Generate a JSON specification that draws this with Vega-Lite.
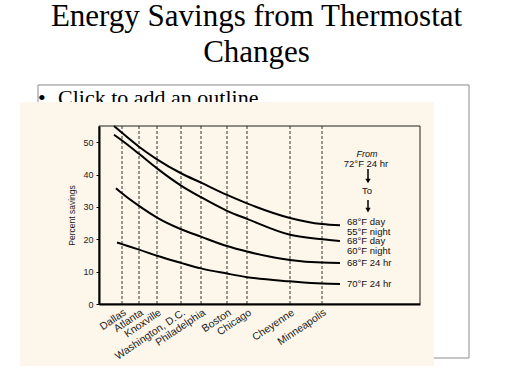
{
  "$schema": "https://vega.github.io/schema/vega-lite/v6.json",
  "width": 321,
  "height": 178,
  "autosize": {"type": "none"},
  "padding": {"left": 99, "top": 126, "right": 92, "bottom": 80},
  "background": "white",
  "title": {
    "text": ["Energy Savings from Thermostat", "Changes"],
    "font": "Liberation Serif",
    "fontSize": 31,
    "fontWeight": "normal",
    "color": "#000000",
    "lineHeight": 36,
    "frame": "group",
    "anchor": "middle",
    "baseline": "bottom",
    "offset": 27,
    "dy": 43,
    "dx": -3
  },
  "datasets": {
    "curves": [
      {"series": "68°F day|55°F night", "dd": 2050, "pct": 55.0},
      {"series": "68°F day|55°F night", "dd": 2290, "pct": 52.9},
      {"series": "68°F day|55°F night", "dd": 2800, "pct": 48.6},
      {"series": "68°F day|55°F night", "dd": 3340, "pct": 44.7},
      {"series": "68°F day|55°F night", "dd": 4060, "pct": 40.4},
      {"series": "68°F day|55°F night", "dd": 4660, "pct": 37.5},
      {"series": "68°F day|55°F night", "dd": 5440, "pct": 33.7},
      {"series": "68°F day|55°F night", "dd": 6040, "pct": 31.1},
      {"series": "68°F day|55°F night", "dd": 7330, "pct": 26.6},
      {"series": "68°F day|55°F night", "dd": 8290, "pct": 24.7},
      {"series": "68°F day|55°F night", "dd": 8830, "pct": 24.3},
      {"series": "68°F day|60°F night", "dd": 2050, "pct": 52.3},
      {"series": "68°F day|60°F night", "dd": 2290, "pct": 50.5},
      {"series": "68°F day|60°F night", "dd": 2800, "pct": 46.4},
      {"series": "68°F day|60°F night", "dd": 3340, "pct": 41.9},
      {"series": "68°F day|60°F night", "dd": 4060, "pct": 36.6},
      {"series": "68°F day|60°F night", "dd": 4660, "pct": 33.0},
      {"series": "68°F day|60°F night", "dd": 5440, "pct": 28.8},
      {"series": "68°F day|60°F night", "dd": 6040, "pct": 26.3},
      {"series": "68°F day|60°F night", "dd": 7330, "pct": 21.4},
      {"series": "68°F day|60°F night", "dd": 8290, "pct": 20.0},
      {"series": "68°F day|60°F night", "dd": 8830, "pct": 19.5},
      {"series": "68°F 24 hr", "dd": 2110, "pct": 35.8},
      {"series": "68°F 24 hr", "dd": 2290, "pct": 34.2},
      {"series": "68°F 24 hr", "dd": 2800, "pct": 30.3},
      {"series": "68°F 24 hr", "dd": 3340, "pct": 26.7},
      {"series": "68°F 24 hr", "dd": 4060, "pct": 23.1},
      {"series": "68°F 24 hr", "dd": 4660, "pct": 20.8},
      {"series": "68°F 24 hr", "dd": 5440, "pct": 17.9},
      {"series": "68°F 24 hr", "dd": 6040, "pct": 16.2},
      {"series": "68°F 24 hr", "dd": 7330, "pct": 13.6},
      {"series": "68°F 24 hr", "dd": 8290, "pct": 12.8},
      {"series": "68°F 24 hr", "dd": 8830, "pct": 12.7},
      {"series": "70°F 24 hr", "dd": 2140, "pct": 19.0},
      {"series": "70°F 24 hr", "dd": 2290, "pct": 18.5},
      {"series": "70°F 24 hr", "dd": 2800, "pct": 16.8},
      {"series": "70°F 24 hr", "dd": 3340, "pct": 14.9},
      {"series": "70°F 24 hr", "dd": 4060, "pct": 12.7},
      {"series": "70°F 24 hr", "dd": 4660, "pct": 11.0},
      {"series": "70°F 24 hr", "dd": 5440, "pct": 9.4},
      {"series": "70°F 24 hr", "dd": 6040, "pct": 8.3},
      {"series": "70°F 24 hr", "dd": 7330, "pct": 7.0},
      {"series": "70°F 24 hr", "dd": 8290, "pct": 6.3},
      {"series": "70°F 24 hr", "dd": 8830, "pct": 6.2}
    ],
    "cities": [
      {"city": "Dallas", "dd": 2290},
      {"city": "Atlanta", "dd": 2800},
      {"city": "Knoxville", "dd": 3340},
      {"city": "Washington, D.C.", "dd": 4060},
      {"city": "Philadelphia", "dd": 4660},
      {"city": "Boston", "dd": 5440},
      {"city": "Chicago", "dd": 6040},
      {"city": "Cheyenne", "dd": 7330},
      {"city": "Minneapolis", "dd": 8290}
    ],
    "notes": [
      {"text": "72°F 24 hr", "dd": 9610, "pct": 43.4},
      {"text": "To", "dd": 9640, "pct": 34.9}
    ],
    "arrows": [
      {"dd": 9670, "top": 41.7, "bottom": 38.0},
      {"dd": 9670, "top": 32.1, "bottom": 29.0}
    ]
  },
  "layer": [
    {
      "data": {"values": [{}]},
      "mark": {"type": "rect", "fill": "transparent", "stroke": "#8c8c8c", "strokeWidth": 1},
      "encoding": {
        "x": {"datum": -230, "type": "quantitative", "scale": {"domain": [1600, 11230], "nice": false, "zero": false}},
        "x2": {"datum": 12700},
        "y": {"datum": 67.68, "type": "quantitative", "scale": {"domain": [0, 55], "nice": false, "zero": false}},
        "y2": {"datum": -16.69}
      }
    },
    {
      "data": {"values": [{}]},
      "mark": {"type": "text", "font": "Liberation Serif", "fontSize": 22, "align": "left", "baseline": "alphabetic", "color": "#000000", "text": "•"},
      "encoding": {
        "x": {"datum": -230, "type": "quantitative", "scale": {"domain": [1600, 11230], "nice": false, "zero": false}},
        "y": {"datum": 61.5, "type": "quantitative", "scale": {"domain": [0, 55], "nice": false, "zero": false}}
      }
    },
    {
      "data": {"values": [{}]},
      "mark": {"type": "text", "font": "Liberation Serif", "fontSize": 22, "align": "left", "baseline": "alphabetic", "color": "#000000", "text": "Click to add an outline"},
      "encoding": {
        "x": {"datum": 370, "type": "quantitative", "scale": {"domain": [1600, 11230], "nice": false, "zero": false}},
        "y": {"datum": 61.5, "type": "quantitative", "scale": {"domain": [0, 55], "nice": false, "zero": false}}
      }
    },
    {
      "data": {"values": [{}]},
      "mark": {"type": "rect", "fill": "#fdf6ea", "strokeWidth": 0},
      "encoding": {
        "x": {"datum": -770, "type": "quantitative", "scale": {"domain": [1600, 11230], "nice": false, "zero": false}},
        "x2": {"datum": 11650},
        "y": {"datum": 62.42, "type": "quantitative", "scale": {"domain": [0, 55], "nice": false, "zero": false}},
        "y2": {"datum": -19.16}
      }
    },
    {
      "data": {"name": "cities"},
      "mark": {"type": "rule", "color": "#333333", "strokeWidth": 1, "strokeDash": [3, 2]},
      "encoding": {
        "x": {"field": "dd", "type": "quantitative", "scale": {"domain": [1600, 11230], "nice": false, "zero": false}},
        "y": {"datum": 0, "type": "quantitative", "scale": {"domain": [0, 55], "nice": false, "zero": false}},
        "y2": {"datum": 55}
      }
    },
    {
      "data": {"name": "curves"},
      "mark": {"type": "line", "color": "#000000", "strokeWidth": 2, "interpolate": "monotone"},
      "encoding": {
        "x": {
          "field": "dd", "type": "quantitative",
          "scale": {"domain": [1600, 11230], "nice": false, "zero": false},
          "axis": {
            "values": [2290, 2800, 3340, 4060, 4660, 5440, 6040, 7330, 8290],
            "labelExpr": "datum.value == 2290 ? 'Dallas' : datum.value == 2800 ? 'Atlanta' : datum.value == 3340 ? 'Knoxville' : datum.value == 4060 ? 'Washington, D.C.' : datum.value == 4660 ? 'Philadelphia' : datum.value == 5440 ? 'Boston' : datum.value == 6040 ? 'Chicago' : datum.value == 7330 ? 'Cheyenne' : 'Minneapolis'",
            "labelAngle": -34,
            "labelAlign": "right",
            "labelBaseline": "top",
            "labelFont": "Liberation Sans",
            "labelFontSize": 10.5,
            "labelColor": "#222222",
            "labelPadding": 3,
            "labelOverlap": false,
            "labelFlush": false,
            "labelBound": false,
            "ticks": false,
            "domainColor": "#000000",
            "domainWidth": 2,
            "grid": false,
            "title": null,
            "zindex": 1
          }
        },
        "y": {
          "field": "pct", "type": "quantitative",
          "scale": {"domain": [0, 55], "nice": false, "zero": false},
          "axis": {
            "values": [0, 10, 20, 30, 40, 50],
            "tickCount": 6,
            "title": "Percent savings",
            "titleFont": "Liberation Sans",
            "titleFontSize": 8.5,
            "titleFontWeight": "normal",
            "titleColor": "#222222",
            "titlePadding": 6,
            "labelFont": "Liberation Sans",
            "labelFontSize": 9,
            "labelColor": "#222222",
            "labelPadding": 3,
            "labelOverlap": false,
            "labelFlush": false,
            "labelBound": false,
            "tickSize": 3,
            "tickColor": "#000000",
            "domainColor": "#000000",
            "domainWidth": 2,
            "grid": false,
            "zindex": 1
          }
        },
        "detail": {"field": "series", "type": "nominal"}
      }
    },
    {
      "data": {"name": "curves"},
      "transform": [
        {"joinaggregate": [{"op": "max", "field": "dd", "as": "maxdd"}], "groupby": ["series"]},
        {"filter": "datum.dd == datum.maxdd"},
        {"filter": "datum.series == '68°F day|55°F night'"}
      ],
      "mark": {"type": "text", "font": "Liberation Sans", "fontSize": 9.5, "align": "left", "baseline": "top", "dx": 7, "dy": -8, "lineBreak": "|", "lineHeight": 9.5, "color": "#111111"},
      "encoding": {
        "x": {"field": "dd", "type": "quantitative", "scale": {"domain": [1600, 11230], "nice": false, "zero": false}},
        "y": {"field": "pct", "type": "quantitative", "scale": {"domain": [0, 55], "nice": false, "zero": false}},
        "text": {"field": "series", "type": "nominal"}
      }
    },
    {
      "data": {"name": "curves"},
      "transform": [
        {"joinaggregate": [{"op": "max", "field": "dd", "as": "maxdd"}], "groupby": ["series"]},
        {"filter": "datum.dd == datum.maxdd"},
        {"filter": "datum.series != '68°F day|55°F night'"}
      ],
      "mark": {"type": "text", "font": "Liberation Sans", "fontSize": 9.5, "align": "left", "baseline": "top", "dx": 7, "dy": -4.5, "lineBreak": "|", "lineHeight": 9.5, "color": "#111111"},
      "encoding": {
        "x": {"field": "dd", "type": "quantitative", "scale": {"domain": [1600, 11230], "nice": false, "zero": false}},
        "y": {"field": "pct", "type": "quantitative", "scale": {"domain": [0, 55], "nice": false, "zero": false}},
        "text": {"field": "series", "type": "nominal"}
      }
    },
    {
      "data": {"values": [{}]},
      "mark": {"type": "text", "font": "Liberation Sans", "fontSize": 9, "fontStyle": "italic", "align": "center", "baseline": "middle", "color": "#111111", "text": "From"},
      "encoding": {
        "x": {"datum": 9640, "type": "quantitative", "scale": {"domain": [1600, 11230], "nice": false, "zero": false}},
        "y": {"datum": 46.5, "type": "quantitative", "scale": {"domain": [0, 55], "nice": false, "zero": false}}
      }
    },
    {
      "data": {"name": "notes"},
      "mark": {"type": "text", "font": "Liberation Sans", "fontSize": 9.5, "align": "center", "baseline": "middle", "color": "#111111"},
      "encoding": {
        "x": {"field": "dd", "type": "quantitative", "scale": {"domain": [1600, 11230], "nice": false, "zero": false}},
        "y": {"field": "pct", "type": "quantitative", "scale": {"domain": [0, 55], "nice": false, "zero": false}},
        "text": {"field": "text", "type": "nominal"}
      }
    },
    {
      "data": {"name": "arrows"},
      "mark": {"type": "rule", "color": "#000000", "strokeWidth": 1.5},
      "encoding": {
        "x": {"field": "dd", "type": "quantitative", "scale": {"domain": [1600, 11230], "nice": false, "zero": false}},
        "y": {"field": "top", "type": "quantitative", "scale": {"domain": [0, 55], "nice": false, "zero": false}},
        "y2": {"field": "bottom"}
      }
    },
    {
      "data": {"name": "arrows"},
      "mark": {"type": "point", "shape": "triangle-down", "filled": true, "color": "#000000", "size": 28, "opacity": 1},
      "encoding": {
        "x": {"field": "dd", "type": "quantitative", "scale": {"domain": [1600, 11230], "nice": false, "zero": false}},
        "y": {"field": "bottom", "type": "quantitative", "scale": {"domain": [0, 55], "nice": false, "zero": false}}
      }
    },
    {
      "data": {"values": [{}]},
      "mark": {"type": "rect", "fill": "transparent", "stroke": "#222222", "strokeWidth": 1},
      "encoding": {
        "x": {"datum": 1600, "type": "quantitative", "scale": {"domain": [1600, 11230], "nice": false, "zero": false}},
        "x2": {"datum": 11230},
        "y": {"datum": 55, "type": "quantitative", "scale": {"domain": [0, 55], "nice": false, "zero": false}},
        "y2": {"datum": 0}
      }
    }
  ],
  "config": {"view": {"stroke": null}, "axis": {"labelOverlap": false}, "axisY": {"values": [0, 10, 20, 30, 40, 50]}}
}
